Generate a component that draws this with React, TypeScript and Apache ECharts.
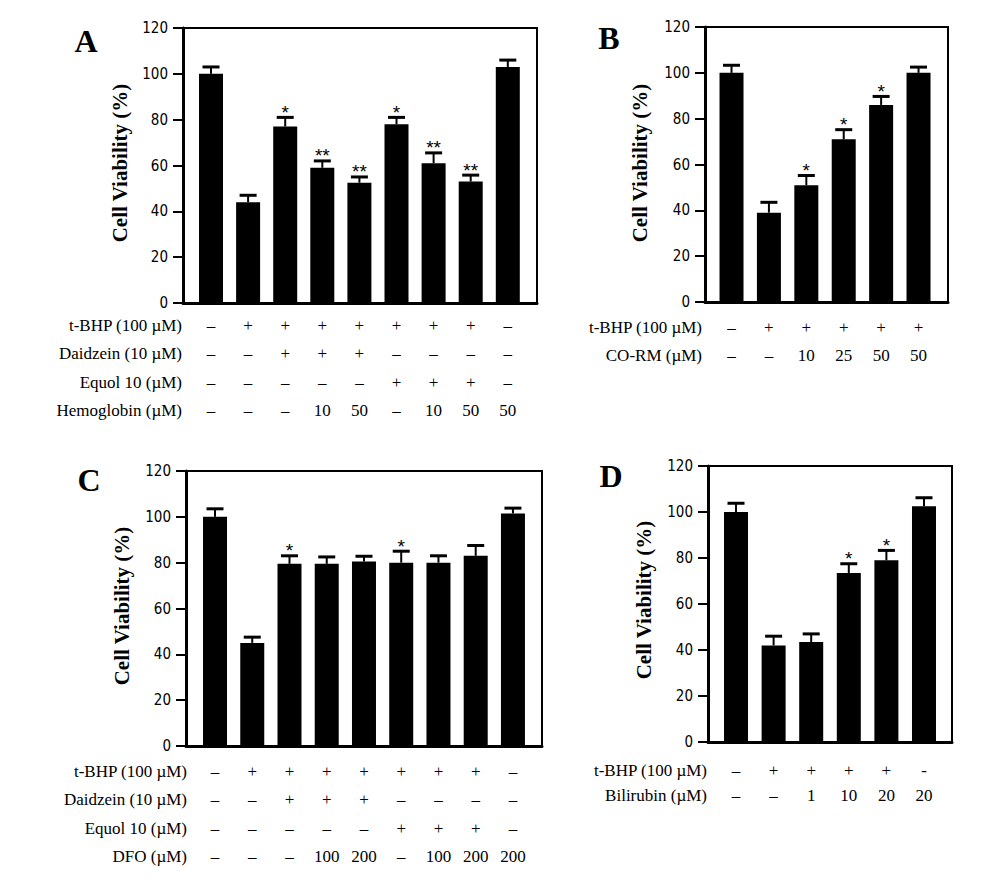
import React, { useEffect, useRef } from "react";
import * as echarts from "echarts";

// ---------- data ----------
const valuesA = [100, 44, 77, 59, 52.5, 78, 61, 53, 103];
const errorsA = [3, 3, 4, 3, 2.5, 3, 4.5, 2.8, 3];
const starsA = ["", "", "*", "**", "**", "*", "**", "**", ""];
const rowLabelsA = ["t-BHP (100 µM)", "Daidzein (10 µM)", "Equol 10 (µM)", "Hemoglobin (µM)"];
const rowsA = [
  ["–", "+", "+", "+", "+", "+", "+", "+", "–"],
  ["–", "–", "+", "+", "+", "–", "–", "–", "–"],
  ["–", "–", "–", "–", "–", "+", "+", "+", "–"],
  ["–", "–", "–", "10", "50", "–", "10", "50", "50"],
];

const valuesB = [100, 39, 51, 71, 86, 100];
const errorsB = [3.3, 4.5, 4.2, 4.2, 3.7, 2.5];
const starsB = ["", "", "*", "*", "*", ""];
const rowLabelsB = ["t-BHP (100 µM)", "CO-RM (µM)"];
const rowsB = [
  ["–", "+", "+", "+", "+", "+"],
  ["–", "–", "10", "25", "50", "50"],
];

const valuesC = [100, 45, 79.5, 79.5, 80.5, 80, 80, 83, 101.5];
const errorsC = [3.5, 2.5, 3.5, 3, 2.3, 5, 3, 4.5, 2.3];
const starsC = ["", "", "*", "", "", "*", "", "", ""];
const rowLabelsC = ["t-BHP (100 µM)", "Daidzein (10 µM)", "Equol 10 (µM)", "DFO (µM)"];
const rowsC = [
  ["–", "+", "+", "+", "+", "+", "+", "+", "–"],
  ["–", "–", "+", "+", "+", "–", "–", "–", "–"],
  ["–", "–", "–", "–", "–", "+", "+", "+", "–"],
  ["–", "–", "–", "100", "200", "–", "100", "200", "200"],
];

const valuesD = [100, 42, 43.5, 73.5, 79, 102.5];
const errorsD = [3.8, 4, 3.5, 4, 4.3, 3.7];
const starsD = ["", "", "", "*", "*", ""];
const rowLabelsD = ["t-BHP (100 µM)", "Bilirubin (µM)"];
const rowsD = [
  ["–", "+", "+", "+", "+", "-"],
  ["–", "–", "1", "10", "20", "20"],
];

const yTicks = [0, 20, 40, 60, 80, 100, 120];
const yTitle = "Cell Viability (%)";

// ---------- layout ----------
const panels = [
  {
    letter: "A", values: valuesA, errors: errorsA, stars: starsA, rowLabels: rowLabelsA, rows: rowsA,
    grid: { left: 183, top: 28, width: 354, height: 275 }, xMin: -0.755, xMax: 8.787,
    rowY: [325, 353, 382, 410], labelX: 182, letterPos: [86, 41], titlePos: [120, 163],
  },
  {
    letter: "B", values: valuesB, errors: errorsB, stars: starsB, rowLabels: rowLabelsB, rows: rowsB,
    grid: { left: 705, top: 27, width: 243, height: 275 }, xMin: -0.709, xMax: 5.788,
    rowY: [327, 355], labelX: 702, letterPos: [609, 38], titlePos: [640, 163],
  },
  {
    letter: "C", values: valuesC, errors: errorsC, stars: starsC, rowLabels: rowLabelsC, rows: rowsC,
    grid: { left: 186, top: 471, width: 356, height: 275 }, xMin: -0.779, xMax: 8.78,
    rowY: [771, 799, 828, 856], labelX: 187, letterPos: [89, 480], titlePos: [122, 606],
  },
  {
    letter: "D", values: valuesD, errors: errorsD, stars: starsD, rowLabels: rowLabelsD, rows: rowsD,
    grid: { left: 708, top: 466, width: 244, height: 276 }, xMin: -0.745, xMax: 5.745,
    rowY: [770, 795], labelX: 707, letterPos: [611, 476], titlePos: [644, 600],
  },
];

const SERIF = '"Liberation Serif", "Times New Roman", serif';
const SANS = '"Liberation Sans", Arial, sans-serif';
const TICKFONT = '"DejaVu Sans Condensed", "Liberation Sans Narrow", "Liberation Sans", sans-serif';

function buildOption() {
  const grids: any[] = [];
  const xAxes: any[] = [];
  const yAxes: any[] = [];
  const series: any[] = [];
  const graphics: any[] = [];

  panels.forEach((p, k) => {
    grids.push({
      ...p.grid,
      show: true,
      borderColor: "#000",
      borderWidth: 2,
      backgroundColor: "transparent",
    });
    xAxes.push({
      gridIndex: k,
      type: "value",
      min: p.xMin,
      max: p.xMax,
      axisLine: { show: true, onZero: false, lineStyle: { color: "#000", width: 3 } },
      axisTick: { show: false },
      axisLabel: { show: false },
      splitLine: { show: false },
    });
    yAxes.push({
      gridIndex: k,
      type: "value",
      min: yTicks[0],
      max: yTicks[yTicks.length - 1],
      interval: yTicks[1] - yTicks[0],
      axisLine: { show: true, onZero: false, lineStyle: { color: "#000", width: 3 } },
      axisTick: { show: true, length: 10, lineStyle: { color: "#000", width: 2 } },
      axisLabel: { color: "#000", fontSize: 15, fontFamily: TICKFONT, margin: 15 },
      splitLine: { show: false },
    });

    series.push({
      type: "bar",
      xAxisIndex: k,
      yAxisIndex: k,
      data: p.values.map((v, i) => [i, v]),
      barWidth: 24,
      itemStyle: { color: "#000" },
      silent: true,
    });

    const stars = p.stars;
    series.push({
      type: "custom",
      xAxisIndex: k,
      yAxisIndex: k,
      clip: false,
      silent: true,
      data: p.values.map((v, i) => [i, v, v + p.errors[i]]),
      renderItem: (params: any, api: any) => {
        const i = api.value(0);
        const base = api.coord([i, api.value(1)]);
        const top = api.coord([i, api.value(2)]);
        const children: any[] = [
          {
            type: "line",
            shape: { x1: base[0], y1: base[1], x2: top[0], y2: top[1] },
            style: { stroke: "#000", lineWidth: 2 },
          },
          {
            type: "line",
            shape: { x1: top[0] - 8.5, y1: top[1], x2: top[0] + 8.5, y2: top[1] },
            style: { stroke: "#000", lineWidth: 3 },
          },
        ];
        const s = stars[params.dataIndex];
        if (s) {
          children.push({
            type: "text",
            style: {
              text: s,
              x: top[0],
              y: top[1] - 5,
              font: `19px ${SANS}`,
              fill: "#000",
              align: "center",
              verticalAlign: "middle",
              textAlign: "center",
              textVerticalAlign: "middle",
            },
          });
        }
        return { type: "group", children };
      },
    });

    const rows = p.rows;
    const rowY = p.rowY;
    series.push({
      type: "custom",
      xAxisIndex: k,
      yAxisIndex: k,
      clip: false,
      silent: true,
      data: p.values.map((_, i) => [i, 0]),
      renderItem: (params: any, api: any) => {
        const pt = api.coord([api.value(0), 0]);
        const children = rows.map((row, r) => ({
          type: "text",
          style: {
            text: row[params.dataIndex],
            x: pt[0],
            y: rowY[r],
            font: `17px ${SERIF}`,
            fill: "#000",
            align: "center",
            verticalAlign: "middle",
            textAlign: "center",
            textVerticalAlign: "middle",
          },
        }));
        return { type: "group", children };
      },
    });

    p.rowLabels.forEach((lab, r) => {
      graphics.push({
        type: "text",
        x: p.labelX,
        y: p.rowY[r],
        style: {
          text: lab,
          font: `17px ${SERIF}`,
          fill: "#000",
          align: "right",
          verticalAlign: "middle",
          textAlign: "right",
          textVerticalAlign: "middle",
        },
      });
    });

    graphics.push({
      type: "text",
      x: p.letterPos[0],
      y: p.letterPos[1],
      style: {
        text: p.letter,
        font: `bold 32px ${SERIF}`,
        fill: "#000",
        align: "center",
        verticalAlign: "middle",
        textAlign: "center",
        textVerticalAlign: "middle",
      },
    });
    graphics.push({
      type: "text",
      x: p.titlePos[0],
      y: p.titlePos[1],
      rotation: Math.PI / 2,
      style: {
        text: yTitle,
        font: `bold 21px ${SERIF}`,
        fill: "#000",
        align: "center",
        verticalAlign: "middle",
        textAlign: "center",
        textVerticalAlign: "middle",
      },
    });
  });

  return {
    animation: false,
    backgroundColor: "#fff",
    grid: grids,
    xAxis: xAxes,
    yAxis: yAxes,
    series,
    graphic: graphics,
  };
}

export default function App() {
  const ref = useRef<HTMLDivElement>(null);
  useEffect(() => {
    if (!ref.current) return;
    const chart = echarts.init(ref.current, undefined, { renderer: "svg" });
    chart.setOption(buildOption() as any);
    return () => chart.dispose();
  }, []);
  return (
    <div
      ref={ref}
      style={{ position: "fixed", left: 0, top: 0, width: 993, height: 893, background: "#fff" }}
    />
  );
}
